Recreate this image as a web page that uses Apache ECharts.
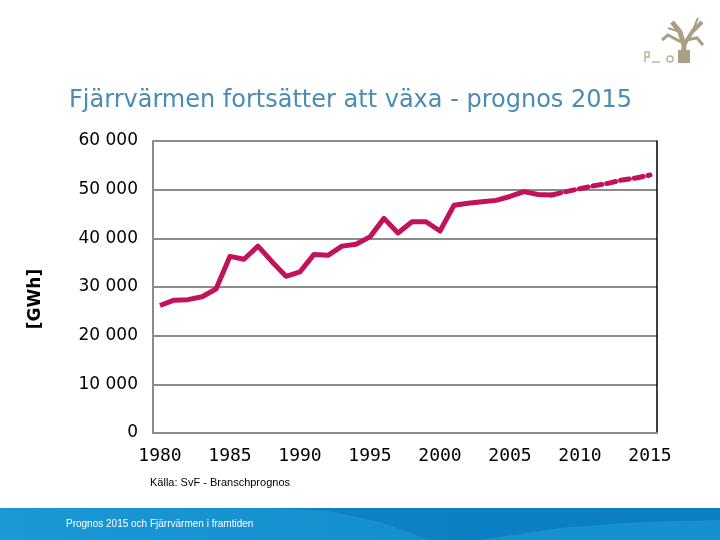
<!DOCTYPE html>
<html>
<head>
<meta charset="utf-8">
<script src="https://cdn.jsdelivr.net/npm/echarts@6/dist/echarts.min.js"></script>
<style>
  html, body { margin: 0; padding: 0; background: #fff; }
  #chart { width: 720px; height: 540px; }
</style>
</head>
<body>
<div id="chart"></div>
<script>
// år på x-axeln
var years = [];
for (var y = 1980; y <= 2015; y++) years.push(String(y));

// utfall 1980-2008 (GWh)
var actual = [26200, 27300, 27400, 28000, 29600, 36300, 35700, 38400, 35200, 32200,
  33100, 36700, 36500, 38400, 38800, 40300, 44100, 41100, 43400, 43400,
  41500, 46800, 47200, 47500, 47800, 48600, 49600, 49000, 48900];

// prognos 2008-2015
var forecastYears = ['2008', '2009', '2010', '2011', '2012', '2013', '2014', '2015'];
var forecast = [48900, 49600, 50200, 50800, 51300, 52000, 52400, 53000];

var yTicks = [0, 10000, 20000, 30000, 40000, 50000, 60000];

var forecastData = years.map(function (yr) {
  var i = forecastYears.indexOf(yr);
  return i < 0 ? '-' : forecast[i];
});

var lineColor = '#c2125c';
var gridGray = '#8c8c8c';
var treeColor = '#a99f84';

var chart = echarts.init(document.getElementById('chart'));
chart.setOption({
  animation: false,
  backgroundColor: '#fff',
  title: {
    text: 'Fjärrvärmen fortsätter att växa - prognos 2015',
    left: 64,
    top: 84,
    textStyle: { fontFamily: 'DejaVu Sans', fontSize: 24, fontWeight: 'normal', color: '#4a8cb3' }
  },
  grid: { left: 153, right: 63, top: 141, bottom: 107, containLabel: false },
  xAxis: {
    type: 'category',
    data: years,
    boundaryGap: true,
    axisTick: { show: false },
    axisLine: { lineStyle: { color: gridGray, width: 2 } },
    axisLabel: {
      interval: 4,
      margin: 14,
      fontFamily: 'DejaVu Sans Mono',
      fontSize: 18,
      color: '#000'
    },
    splitLine: { show: false }
  },
  yAxis: [{
    type: 'value',
    min: yTicks[0],
    max: yTicks[yTicks.length - 1],
    interval: 10000,
    axisLine: { show: true, lineStyle: { color: gridGray, width: 2 } },
    axisTick: { show: false },
    axisLabel: {
      margin: 15,
      fontFamily: 'DejaVu Sans',
      fontSize: 17,
      color: '#000',
      formatter: function (v) {
        return String(v).replace(/\B(?=(\d{3})+(?!\d))/g, ' ');
      }
    },
    splitLine: { lineStyle: { color: gridGray, width: 2 } }
  }, {
    type: 'value',
    position: 'right',
    min: yTicks[0],
    max: yTicks[yTicks.length - 1],
    interval: 10000,
    axisLine: { show: true, lineStyle: { color: '#000', width: 1.5 } },
    axisTick: { show: false },
    axisLabel: { show: false },
    splitLine: { show: false }
  }],
  series: [{
    name: 'Utfall',
    type: 'line',
    data: actual,
    symbol: 'none',
    lineStyle: { color: lineColor, width: 5, join: 'round' },
    z: 3
  }, {
    name: 'Prognos',
    type: 'line',
    data: forecastData,
    symbol: 'none',
    lineStyle: { color: lineColor, width: 5, type: [9, 5], cap: 'round' },
    z: 3
  }],
  graphic: [
    {
      type: 'text',
      x: 36, y: 299,
      rotation: Math.PI / 2,
      style: {
        text: '[GWh]',
        fontFamily: 'DejaVu Sans',
        fontWeight: 'bold',
        fontSize: 17,
        fill: '#000',
        align: 'center',
        verticalAlign: 'middle'
      }
    },
    {
      type: 'text',
      x: 150, y: 483,
      style: {
        text: 'Källa: SvF - Branschprognos',
        fontFamily: 'Liberation Sans',
        fontSize: 11,
        fill: '#000',
        verticalAlign: 'middle'
      }
    },
    // blått fält längst ner
    {
      type: 'rect',
      shape: { x: 0, y: 508, width: 720, height: 32 },
      style: {
        fill: new echarts.graphic.LinearGradient(0, 0, 1, 0, [
          { offset: 0, color: '#1c98d6' },
          { offset: 0.5, color: '#1690d0' },
          { offset: 1, color: '#0f86c8' }
        ])
      },
      z: 1
    },
    {
      type: 'polygon',
      shape: { points: [[270, 508], [330, 511], [380, 522], [430, 540], [720, 540], [720, 508]] },
      style: { fill: '#0b7cc0', opacity: 0.75 },
      z: 2
    },
    {
      type: 'polygon',
      shape: { points: [[480, 540], [560, 528], [640, 522], [720, 520], [720, 540]] },
      style: { fill: '#1c97d5', opacity: 0.7 },
      z: 2
    },
    {
      type: 'text',
      x: 66, y: 524,
      style: {
        text: 'Prognos 2015 och Fjärrvärmen i framtiden',
        fontFamily: 'Liberation Sans',
        fontSize: 10,
        fill: '#fff',
        verticalAlign: 'middle'
      },
      z: 3
    },
    // logga (enkelt träd)
    { type: 'polyline', shape: { points: [[683, 63], [684, 45], [680, 32], [672, 22]] }, style: { stroke: treeColor, lineWidth: 5, fill: null } },
    { type: 'polyline', shape: { points: [[684, 45], [692, 32], [702, 22]] }, style: { stroke: treeColor, lineWidth: 4, fill: null } },
    { type: 'polyline', shape: { points: [[686, 40], [697, 38], [703, 45]] }, style: { stroke: treeColor, lineWidth: 3, fill: null } },
    { type: 'polyline', shape: { points: [[681, 42], [668, 35], [662, 40]] }, style: { stroke: treeColor, lineWidth: 3, fill: null } },
    { type: 'line', shape: { x1: 680, y1: 32, x2: 668, y2: 28 }, style: { stroke: treeColor, lineWidth: 2 } },
    { type: 'line', shape: { x1: 692, y1: 32, x2: 698, y2: 18 }, style: { stroke: treeColor, lineWidth: 2 } },
    { type: 'rect', shape: { x: 678, y: 50, width: 12, height: 13 }, style: { fill: treeColor } },
    { type: 'polyline', shape: { points: [[645, 62], [645, 52], [649, 52], [649, 57], [645, 57]] }, style: { stroke: '#bdb49c', lineWidth: 1.5, fill: null } },
    { type: 'line', shape: { x1: 652, y1: 62, x2: 660, y2: 62 }, style: { stroke: '#bdb49c', lineWidth: 1.5 } },
    { type: 'circle', shape: { cx: 670, cy: 59, r: 3 }, style: { stroke: '#bdb49c', lineWidth: 1.5, fill: null } }
  ]
});
</script>
</body>
</html>
